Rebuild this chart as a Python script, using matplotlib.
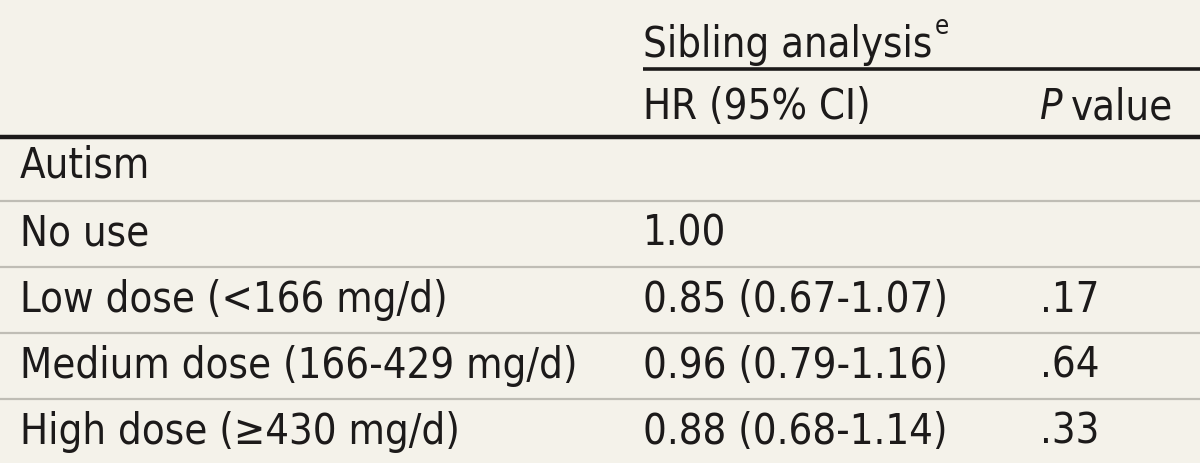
import matplotlib
matplotlib.use("Agg")
from matplotlib import pyplot as plt
from matplotlib import font_manager

# table content
group_title = "Sibling analysis"
group_note = "e"
col_heads = ["HR (95% CI)", "value"]
section = "Autism"
row_labels = ["No use", "Low dose (<166 mg/d)", "Medium dose (166-429 mg/d)", "High dose (\u2265430 mg/d)"]
hr_text = ["1.00", "0.85 (0.67-1.07)", "0.96 (0.79-1.16)", "0.88 (0.68-1.14)"]
p_text = ["", ".17", ".64", ".33"]

cond = [f for f in font_manager.fontManager.ttflist if f.name == "DejaVu Sans" and "ondensed" in str(f.stretch) + f.fname]
plt.rcParams['font.family'] = ['DejaVu Sans']
stretch = "condensed" if cond else "normal"

bg = "#f4f2ea"
ink = "#1c1a1a"
fs = 30

fig = plt.figure(figsize=(12, 4.64), dpi=100, facecolor=bg)
ax = fig.add_axes([0, 0, 1, 1])
ax.set_xlim(0, 1200)
ax.set_ylim(464, 0)
ax.axis("off")
ax.set_facecolor(bg)
rend = fig.canvas.get_renderer()

def txt(x, y, s, **kw):
    kw.setdefault("fontsize", fs)
    return ax.text(x, y, s, color=ink, va="center", ha="left", fontstretch=stretch, **kw)

def right_of(t):
    bb = t.get_window_extent(rend)
    return bb.x1  # pixels == data x since axes spans figure

x_lab, x_hr, x_p = 20, 643, 1040
row_h = 66
y_first = 170

# header
t = txt(x_hr, 45, group_title)
txt(right_of(t) + 2, 27, group_note, fontsize=fs * 0.62)
txt(x_hr, 107, col_heads[0])
tp = txt(x_p, 107, "P", style="italic")
txt(right_of(tp) + 8, 107, col_heads[1])
ax.plot([x_hr, 1200], [70, 70], color=ink, lw=2.6, solid_capstyle="butt")
ax.plot([0, 1200], [138, 138], color=ink, lw=3.2, solid_capstyle="butt")

# body
txt(x_lab, y_first - 4, section)
for i, lab in enumerate(row_labels):
    y = y_first + (i + 1) * row_h - 2
    txt(x_lab, y, lab)
    txt(x_hr, y, hr_text[i])
    if p_text[i]:
        txt(x_p, y, p_text[i])
for i in range(4):
    yl = 202 + i * 66
    ax.plot([0, 1200], [yl, yl], color="#bfbdb5", lw=1.6)

fig.savefig("out.png", dpi=100, facecolor=bg)
